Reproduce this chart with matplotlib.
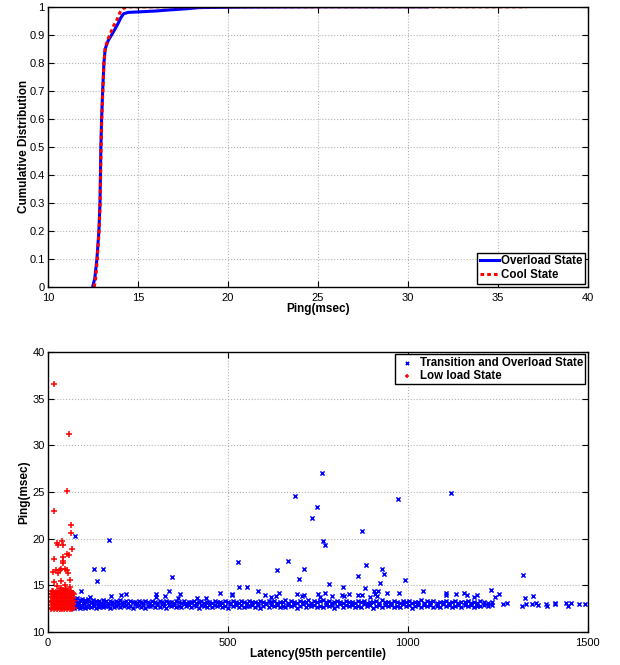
import matplotlib
matplotlib.use("Agg")
import matplotlib.pyplot as plt
from matplotlib.ticker import MultipleLocator

plt.rcParams['font.family'] = ['Liberation Sans', 'DejaVu Sans']

# CDF of ping (msec)
over_ping = [12.48, 12.6, 12.72, 12.83, 12.89, 12.94, 12.98, 13.04, 13.11, 13.18, 13.35,
             13.54, 13.72, 13.81, 13.93, 14.04, 14.2, 14.46, 15.1, 16.0, 16.6, 17.7, 18.4,
             19.5, 21.0, 25.0, 31.1]
over_cdf = [0.0, 0.03, 0.1, 0.2, 0.3, 0.5, 0.6, 0.7, 0.8, 0.85, 0.88,
            0.9, 0.92, 0.93, 0.945, 0.96, 0.975, 0.98, 0.982, 0.985, 0.988, 0.993, 0.997,
            0.998, 0.999, 1.0, 1.0]
cool_ping = [12.57, 12.65, 12.74, 12.84, 12.9, 12.95, 12.99, 13.05, 13.11, 13.18, 13.3,
             13.44, 13.63, 13.81, 13.94, 14.04, 14.2, 14.5, 20.0, 30.0, 36.6]
cool_cdf = [0.0, 0.03, 0.1, 0.2, 0.3, 0.5, 0.6, 0.7, 0.8, 0.85, 0.88,
            0.9, 0.93, 0.95, 0.97, 0.985, 0.995, 1.0, 1.0, 1.0, 1.0]

# scatter: latency vs ping, transition / overload state (outliers)
hot_x = [75, 169, 128, 154, 137, 344, 529, 91, 118, 175, 203, 217, 299, 299, 325, 336,
         367, 360, 413, 439, 478, 512, 531, 762, 687, 748, 734, 972, 873, 765, 770, 668,
         637, 711, 883, 929, 934, 698, 861, 991, 781, 922, 554, 820, 881, 1043, 584, 642,
         906, 916, 941, 1119, 1320, 1106, 1106, 1135, 1156, 1165, 1193, 1184, 1230, 1253,
         1242, 1325, 1348, 512, 604, 621, 633, 691, 705, 712, 751, 756, 769, 790, 817, 822,
         837, 862, 874, 894, 910, 915, 975, 1265, 1277, 1317, 1328, 1344, 1356, 1363, 1383,
         1388, 1410, 1410, 1439, 1446, 1453, 1475, 1493]
hot_y = [20.3, 19.9, 16.8, 16.8, 15.5, 15.85, 17.5, 14.4, 13.8, 13.9, 14.0, 14.1, 14.1,
         13.8, 13.9, 14.35, 14.1, 13.6, 13.65, 13.6, 14.2, 14.0, 14.8, 27.0, 24.6, 23.4,
         22.25, 24.3, 20.8, 19.7, 19.3, 17.6, 16.6, 16.7, 17.2, 16.8, 16.2, 15.65, 16.05,
         15.55, 15.1, 15.2, 14.85, 14.8, 14.7, 14.4, 14.4, 14.2, 14.35, 14.35, 14.2, 24.9,
         16.1, 14.2, 14.0, 14.1, 14.15, 14.0, 14.0, 13.8, 14.45, 14.1, 13.8, 13.6, 13.9,
         14.1, 14.0, 13.8, 13.9, 14.1, 13.9, 14.0, 14.05, 13.8, 14.15, 13.9, 14.0, 13.85,
         14.1, 13.95, 14.0, 13.8, 14.05, 13.9, 14.2, 13.0, 13.1, 12.8, 13.0, 12.95, 13.15,
         12.9, 13.0, 12.8, 13.1, 12.95, 13.1, 12.75, 13.1, 12.95, 13.0]

# dense band of the transition / overload state
band_x = [72, 76, 80, 84, 88, 92, 95, 99, 103, 107, 111, 115, 119, 124, 128, 133, 138, 142,
          147, 152, 157, 162, 167, 172, 178, 183, 189, 194, 200, 206, 211, 217, 223, 229,
          235, 241, 247, 253, 259, 265, 271, 278, 284, 290, 297, 303, 310, 316, 323, 329,
          336, 343, 350, 356, 363, 370, 377, 384, 391, 398, 405, 412, 419, 426, 434, 441,
          448, 455, 463, 470, 477, 485, 492, 500, 507, 515, 522, 530, 537, 545, 552, 560,
          568, 575, 583, 590, 598, 606, 613, 621, 629, 637, 644, 652, 660, 668, 676, 684,
          692, 700, 708, 716, 724, 732, 740, 748, 756, 764, 772, 780, 788, 796, 804, 812,
          820, 829, 837, 845, 853, 861, 870, 878, 886, 894, 903, 911, 919, 928, 936, 944,
          953, 961, 969, 978, 986, 995, 1003, 1012, 1020, 1029, 1037, 1046, 1054, 1063,
          1071, 1080, 1089, 1097, 1106, 1114, 1123, 1132, 1140, 1149, 1158, 1167, 1176,
          1184, 1193, 1202, 1211, 1222, 1233]
band_hi = [13.5, 13.3, 13.6, 13.2, 13.45, 13.3, 13.5, 13.2, 13.4, 13.25, 13.5, 13.3, 13.2,
           13.4, 13.15, 13.35, 13.2, 13.3, 13.1, 13.4, 13.2, 13.3, 13.15, 13.35, 13.2, 13.1,
           13.3, 13.2, 13.4, 13.15, 13.25, 13.3, 13.1, 13.35, 13.2, 13.25, 13.1, 13.3, 13.2,
           13.15, 13.35, 13.2, 13.1, 13.3, 13.25, 13.15, 13.3, 13.2, 13.1, 13.35, 13.2, 13.25,
           13.1, 13.3, 13.2, 13.15, 13.3, 13.1, 13.25, 13.2, 13.35, 13.1, 13.2, 13.3, 13.15,
           13.25, 13.2, 13.1, 13.3, 13.2, 13.25, 13.15, 13.35, 13.2, 13.1, 13.3, 13.25, 13.15,
           13.3, 13.2, 13.1, 13.35, 13.2, 13.25, 13.1, 13.3, 13.2, 13.15, 13.35, 13.2, 13.3,
           13.1, 13.25, 13.2, 13.4, 13.15, 13.3, 13.2, 13.1, 13.35, 13.25, 13.2, 13.4, 13.15,
           13.3, 13.2, 13.35, 13.45, 13.2, 13.3, 13.15, 13.25, 13.35, 13.2, 13.1, 13.3, 13.2,
           13.25, 13.15, 13.3, 13.2, 13.35, 13.1, 13.25, 13.2, 13.3, 13.15, 13.4, 13.2, 13.25,
           13.1, 13.3, 13.2, 13.15, 13.35, 13.2, 13.3, 13.1, 13.25, 13.2, 13.4, 13.15, 13.3,
           13.2, 13.35, 13.1, 13.25, 13.2, 13.3, 13.15, 13.2, 13.35, 13.1, 13.25, 13.2, 13.3,
           13.15, 13.2, 13.1, 13.3, 13.2, 13.15, 13.25]
band_lo = [12.6, 12.9, 12.7, 13.0, 12.55, 12.85, 12.7, 12.95, 12.6, 12.8, 12.7, 12.9, 12.65,
           12.85, 12.75, 12.6, 12.9, 12.7, 12.8, 12.65, 12.9, 12.75, 12.8, 12.6, 12.95, 12.7,
           12.8, 12.9, 12.65, 12.85, 12.75, 12.9, 12.7, 12.8, 12.6, 12.95, 12.75, 12.85, 12.7,
           12.9, 12.6, 12.8, 12.75, 12.9, 12.65, 12.85, 12.7, 12.95, 12.8, 12.6, 12.85, 12.75,
           12.9, 12.7, 12.8, 12.65, 12.95, 12.75, 12.85, 12.7, 12.9, 12.75, 12.6, 12.85, 12.8,
           12.7, 12.9, 12.65, 12.85, 12.75, 12.9, 12.7, 12.8, 12.6, 12.95, 12.75, 12.85, 12.7,
           12.9, 12.65, 12.8, 12.75, 12.9, 12.7, 12.85, 12.6, 12.8, 12.95, 12.7, 12.85, 12.75,
           12.9, 12.65, 12.8, 12.7, 12.9, 12.75, 12.85, 12.6, 12.8, 12.95, 12.7, 12.85, 12.75,
           12.9, 12.65, 12.8, 12.7, 12.9, 12.75, 12.85, 12.6, 12.8, 12.95, 12.7, 12.85, 12.75,
           12.9, 12.65, 12.8, 12.7, 12.95, 12.75, 12.85, 12.6, 12.8, 12.9, 12.7, 12.85, 12.75,
           12.9, 12.65, 12.8, 12.7, 12.95, 12.75, 12.85, 12.6, 12.8, 12.9, 12.7, 12.85, 12.75,
           12.9, 12.65, 12.8, 12.7, 12.95, 12.75, 12.85, 12.7, 12.8, 12.9, 12.7, 12.85, 12.75,
           12.9, 12.7, 12.8, 12.75, 12.9, 12.8, 12.85]

# low load state
cool_x = [17, 59, 52, 17, 63, 63, 68, 24, 29, 39, 41, 52, 58, 17, 41, 43, 43, 15, 21, 32,
          37, 46, 52, 57, 27, 60, 37, 17, 46, 25, 60, 35, 50,
          8, 12, 16, 20, 24, 28, 32, 36, 40, 44, 48, 52, 56, 60, 64, 68, 72,
          10, 14, 18, 22, 26, 30, 34, 38, 42, 46, 50, 54, 58, 62, 66, 70,
          8, 12, 16, 20, 24, 28, 32, 36, 40, 44, 48, 52, 56, 60, 64, 68, 72,
          10, 14, 18, 22, 26, 30, 34, 38, 42, 46, 50, 54, 58, 62, 66, 70,
          8, 12, 16, 20, 24, 28, 32, 36, 40, 44, 48, 52, 56, 60, 64, 68, 72,
          10, 15, 21, 27, 33, 39, 45, 51, 57, 63, 69]
cool_y = [36.6, 31.2, 25.1, 23.0, 21.5, 20.6, 18.9, 19.5, 19.3, 19.75, 19.3, 18.4, 18.3,
          17.8, 18.0, 17.6, 17.4, 16.4, 16.6, 16.6, 16.7, 16.7, 16.6, 16.3, 16.3, 15.6, 15.5,
          15.4, 15.0, 14.9, 14.8, 14.7, 14.6,
          12.5, 12.55, 12.5, 12.6, 12.45, 12.55, 12.5, 12.6, 12.5, 12.45, 12.55, 12.5, 12.6,
          12.5, 12.55, 12.5, 12.6,
          12.9, 12.95, 12.85, 12.9, 13.0, 12.9, 12.85, 12.95, 12.9, 12.85, 13.0, 12.9, 12.95,
          12.85, 12.9, 12.95,
          13.3, 13.25, 13.35, 13.3, 13.25, 13.35, 13.3, 13.2, 13.3, 13.35, 13.25, 13.3, 13.35,
          13.25, 13.3, 13.2, 13.3,
          13.7, 13.65, 13.75, 13.7, 13.65, 13.7, 13.75, 13.7, 13.65, 13.7, 13.75, 13.7, 13.65,
          13.7, 13.75, 13.6,
          14.1, 14.05, 14.15, 14.1, 14.05, 14.2, 14.1, 14.15, 14.1, 14.05, 14.2, 14.1, 14.15,
          14.3, 14.1, 14.0, 14.05,
          14.35, 14.4, 14.3, 14.4, 14.35, 14.45, 14.4, 14.3, 14.4, 14.35, 14.2]

fig = plt.figure(figsize=(6.2, 6.65), dpi=100)
ax1 = fig.add_axes([0.0774, 0.5685, 0.8705, 0.4213])
ax2 = fig.add_axes([0.0774, 0.0496, 0.8705, 0.4210])

for ax in (ax1, ax2):
    ax.tick_params(direction='in', top=True, right=True, length=4, labelsize=8)
    ax.tick_params(axis='x', pad=4.2)
    ax.tick_params(axis='y', pad=2.5)
    ax.grid(which='major', color='#b4b4b4', linestyle=':', linewidth=0.8)
    ax.set_axisbelow(True)
    for s in ax.spines.values():
        s.set_linewidth(1.0)

# top: CDF
ax1.plot(over_ping, over_cdf, color='#0000ff', linewidth=2.2, label='Overload State')
ax1.plot(cool_ping, cool_cdf, color='#ff0000', linewidth=2.2, linestyle=(0, (1.2, 1.0)),
         label='Cool State')
ax1.set_xlim(10, 40)
ax1.set_ylim(0, 1)
ax1.xaxis.set_major_locator(MultipleLocator(5))
ax1.set_yticks([0, 0.1, 0.2, 0.3, 0.4, 0.5, 0.6, 0.7, 0.8, 0.9, 1])
ax1.set_yticklabels(['0', '0.1', '0.2', '0.3', '0.4', '0.5', '0.6', '0.7', '0.8', '0.9', '1'])
ax1.set_xlabel('Ping(msec)', fontsize=8.5, fontweight='bold', labelpad=0)
ax1.set_ylabel('Cumulative Distribution', fontsize=8.5, fontweight='bold', labelpad=-0.5)
leg1 = ax1.legend(loc='lower right', prop={'weight': 'bold', 'size': 8.3},
                  fancybox=False, edgecolor='black', framealpha=1, handlelength=1.7,
                  handletextpad=0.1, borderpad=0.25, labelspacing=0.15, borderaxespad=0.25)
leg1.get_frame().set_linewidth(1.0)

# bottom: scatter
ax2.scatter(band_x, band_hi, marker='x', s=9, linewidths=1.1, color='#0000ff')
ax2.scatter(band_x, band_lo, marker='x', s=9, linewidths=1.1, color='#0000ff')
ax2.scatter(hot_x, hot_y, marker='x', s=9, linewidths=1.1, color='#0000ff',
            label='Transition and Overload State')
ax2.scatter(cool_x, cool_y, marker='+', s=14, linewidths=1.1, color='#ff0000',
            label='Low load State')
ax2.set_xlim(0, 1500)
ax2.set_ylim(10, 40)
ax2.xaxis.set_major_locator(MultipleLocator(500))
ax2.yaxis.set_major_locator(MultipleLocator(5))
ax2.set_xlabel('Latency(95th percentile)', fontsize=8.5, fontweight='bold', labelpad=0)
ax2.set_ylabel('Ping(msec)', fontsize=8.5, fontweight='bold', labelpad=1.5)
leg2 = ax2.legend(loc='upper right', prop={'weight': 'bold', 'size': 8.3},
                  fancybox=False, edgecolor='black', framealpha=1, handlelength=1.6,
                  handletextpad=0.35, borderpad=0.2, labelspacing=0.1, borderaxespad=0.2,
                  markerscale=0.8)
leg2.get_frame().set_linewidth(1.0)

fig.savefig('out.png', dpi=100)
